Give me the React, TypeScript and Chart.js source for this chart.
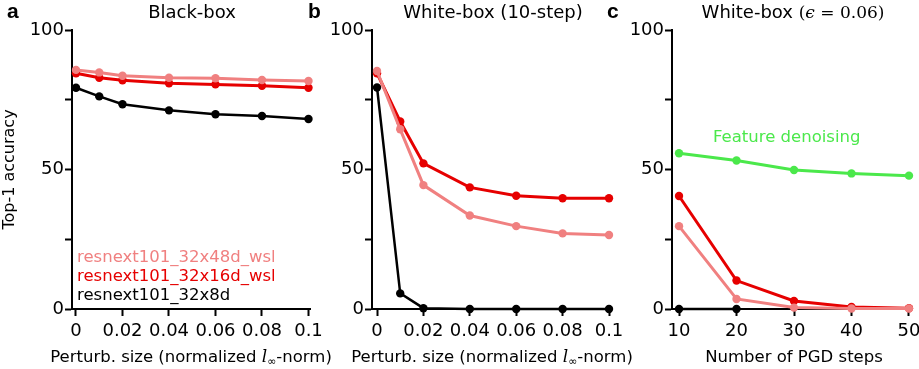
import React, { useEffect, useRef } from "react";
import { Chart, registerables } from "chart.js";
Chart.register(...registerables);

const SANS = "'DejaVu Sans', sans-serif";
const SERIF = "'DejaVu Serif', serif";

// ---- data ----
const perturbSizes = [0, 0.01, 0.02, 0.04, 0.06, 0.08, 0.1];
const perturbTicks = [0, 0.02, 0.04, 0.06, 0.08, 0.1];
const pgdSteps = [10, 20, 30, 40, 50];
const pgdTicks = [10, 20, 30, 40, 50];
const pgdStepsBlack = [10, 20];
const yTickValues = [0, 25, 50, 75, 100];
const yTickLabels = [0, 50, 100];

const blackBox48 = [85.7, 84.8, 83.6, 82.9, 82.7, 82.1, 81.7];
const blackBox16 = [84.5, 82.9, 82.0, 80.9, 80.5, 80.0, 79.3];
const blackBox8 = [79.3, 76.2, 73.4, 71.2, 69.8, 69.2, 68.1];

const whiteBox48 = [85.3, 64.4, 44.4, 33.5, 29.7, 27.1, 26.5];
const whiteBox16 = [84.5, 67.2, 52.2, 43.6, 40.6, 39.7, 39.7];
const whiteBox8 = [79.4, 5.6, 0.3, 0, 0, 0, 0];

const pgdDenoise = [55.8, 53.2, 49.8, 48.6, 47.8];
const pgd16 = [40.5, 10.2, 2.9, 0.7, 0.3];
const pgd48 = [29.7, 3.6, 0.5, 0.2, 0.2];
const pgd8 = [0, 0];

const names = ["resnext101_32x48d_wsl", "resnext101_32x16d_wsl", "resnext101_32x8d"];

const C48 = "#f08080";
const C16 = "#e60000";
const C8 = "#000000";
const CFD = "#4be84b";

type Seg = { text: string; font: string; dy?: number };
type TextItem = { segs: Seg[]; x: number; y: number; align: "left" | "center"; color: string };

function drawRich(ctx: CanvasRenderingContext2D, t: TextItem, offX: number) {
  ctx.save();
  ctx.textBaseline = "alphabetic";
  ctx.textAlign = "left";
  ctx.fillStyle = t.color;
  const widths = t.segs.map((s) => {
    ctx.font = s.font;
    return ctx.measureText(s.text).width;
  });
  const total = widths.reduce((a, b) => a + b, 0);
  let cx = (t.align === "center" ? t.x - total / 2 : t.x) - offX;
  t.segs.forEach((s, i) => {
    ctx.font = s.font;
    ctx.fillText(s.text, cx, t.y + (s.dy || 0));
    cx += widths[i];
  });
  ctx.restore();
}

function series(xs: number[], ys: number[], color: string, width: number) {
  return {
    data: xs.map((x, i) => ({ x, y: ys[i] })),
    borderColor: color,
    backgroundColor: color,
    pointBackgroundColor: color,
    pointBorderWidth: 0,
    pointRadius: 4.2,
    borderWidth: width,
    clip: false as any,
    tension: 0,
  };
}

const sans = (px: number, w = "") => `${w} ${px}px ${SANS}`.trim();
const letterFont = `bold 21px 'Liberation Sans', sans-serif`;

const xTitlePerturb = (cx: number): TextItem => ({
  segs: [
    { text: "Perturb. size (normalized ", font: sans(16.5) },
    { text: "l", font: `italic 17px ${SERIF}` },
    { text: "∞", font: `11px ${SANS}`, dy: 3 },
    { text: "-norm)", font: sans(16.5) },
  ],
  x: cx,
  y: 362,
  align: "center",
  color: "#000",
});

type PanelProps = {
  left: number;
  width: number;
  axisWidth: number;
  padRight: number;
  xMin: number;
  xMax: number;
  xTicks: number[];
  datasets: any[];
  showYTitle: boolean;
  texts: TextItem[];
};

function Panel(p: PanelProps) {
  const ref = useRef<HTMLCanvasElement>(null);
  useEffect(() => {
    if (!ref.current) return;
    const textPlugin = {
      id: "texts",
      afterDraw(chart: any) {
        p.texts.forEach((t) => drawRich(chart.ctx, t, p.left));
      },
    };
    const chart = new Chart(ref.current, {
      type: "line",
      data: { datasets: p.datasets },
      options: {
        animation: false,
        responsive: false,
        maintainAspectRatio: false,
        devicePixelRatio: 1,
        layout: { padding: { top: 30, right: p.padRight, left: 0, bottom: 0 } },
        plugins: { legend: { display: false }, tooltip: { enabled: false }, title: { display: false } },
        scales: {
          x: {
            type: "linear",
            min: p.xMin,
            max: p.xMax,
            afterBuildTicks: (s: any) => {
              s.ticks = p.xTicks.map((v) => ({ value: v }));
            },
            afterFit: (s: any) => {
              s.height = 60;
              s.paddingLeft = 0;
              s.paddingRight = 0;
            },
            grid: { display: true, drawOnChartArea: false, drawTicks: true, tickLength: 7, tickWidth: 2, tickColor: "#000" },
            border: { display: true, color: "#000", width: 2 },
            ticks: {
              color: "#000",
              font: { family: SANS, size: 18 },
              padding: 5,
              autoSkip: false,
              maxRotation: 0,
              callback: (v: any) => String(v),
            },
          },
          y: {
            type: "linear",
            min: 0,
            max: 100,
            afterBuildTicks: (s: any) => {
              s.ticks = yTickValues.map((v) => ({ value: v }));
            },
            afterFit: (s: any) => {
              s.width = p.axisWidth;
              s.paddingTop = 0;
              s.paddingBottom = 0;
            },
            grid: { display: true, drawOnChartArea: false, drawTicks: true, tickLength: 7, tickWidth: 2, tickColor: "#000" },
            border: { display: true, color: "#000", width: 2 },
            ticks: {
              color: "#000",
              font: { family: SANS, size: 18 },
              padding: 1,
              autoSkip: false,
              callback: (v: any) => (yTickLabels.includes(Number(v)) ? String(v) : ""),
            },
            title: {
              display: p.showYTitle,
              text: "Top-1 accuracy",
              color: "#000",
              font: { family: SANS, size: 16 },
              padding: 0,
            },
          },
        },
      } as any,
      plugins: [textPlugin],
    });
    return () => chart.destroy();
  }, []);
  return (
    <canvas
      ref={ref}
      width={p.width}
      height={369}
      style={{ position: "absolute", left: p.left, top: 0, width: p.width, height: 369, display: "block" }}
    />
  );
}

export default function App() {
  const panelA: PanelProps = {
    left: 0,
    width: 340,
    axisWidth: 72,
    padRight: 30,
    xMin: -0.00172,
    xMax: 0.10065,
    xTicks: perturbTicks,
    showYTitle: true,
    datasets: [
      series(perturbSizes, blackBox48, C48, 3),
      series(perturbSizes, blackBox16, C16, 3),
      series(perturbSizes, blackBox8, C8, 2.5),
    ],
    texts: [
      { segs: [{ text: "a", font: letterFont }], x: 7, y: 18, align: "left", color: "#000" },
      { segs: [{ text: "b", font: letterFont }], x: 308, y: 18, align: "left", color: "#000" },
      { segs: [{ text: "Black-box", font: sans(18) }], x: 192, y: 18, align: "center", color: "#000" },
      { segs: [{ text: names[0], font: sans(16.5) }], x: 77, y: 262, align: "left", color: C48 },
      { segs: [{ text: names[1], font: sans(16.5) }], x: 77, y: 281, align: "left", color: C16 },
      { segs: [{ text: names[2], font: sans(16.5) }], x: 77, y: 300, align: "left", color: C8 },
      xTitlePerturb(191),
    ],
  };
  const panelB: PanelProps = {
    left: 314,
    width: 326,
    axisWidth: 58,
    padRight: 29,
    xMin: -0.00216,
    xMax: 0.10086,
    xTicks: perturbTicks,
    showYTitle: false,
    datasets: [
      series(perturbSizes, whiteBox48, C48, 3),
      series(perturbSizes, whiteBox16, C16, 3),
      series(perturbSizes, whiteBox8, C8, 2.5),
    ],
    texts: [
      { segs: [{ text: "c", font: letterFont }], x: 607, y: 18, align: "left", color: "#000" },
      { segs: [{ text: "White-box (10-step)", font: sans(18) }], x: 493, y: 18, align: "center", color: "#000" },
      xTitlePerturb(492),
    ],
  };
  const panelC: PanelProps = {
    left: 614,
    width: 305,
    axisWidth: 58,
    padRight: 8,
    xMin: 8.78,
    xMax: 50.35,
    xTicks: pgdTicks,
    showYTitle: false,
    datasets: [
      series(pgdSteps, pgdDenoise, CFD, 3),
      series(pgdSteps, pgd48, C48, 3),
      series(pgdSteps, pgd16, C16, 3),
      series(pgdStepsBlack, pgd8, C8, 2.5),
    ],
    texts: [
      {
        segs: [
          { text: "White-box ", font: sans(18) },
          { text: "(", font: `17px ${SERIF}` },
          { text: "ϵ", font: `italic 17px ${SERIF}` },
          { text: " = 0.06)", font: `17px ${SERIF}` },
        ],
        x: 793,
        y: 18,
        align: "center",
        color: "#000",
      },
      { segs: [{ text: "Feature denoising", font: sans(16.5) }], x: 713, y: 142, align: "left", color: CFD },
      { segs: [{ text: "Number of PGD steps", font: sans(16.5) }], x: 794, y: 362, align: "center", color: "#000" },
    ],
  };
  return (
    <div style={{ position: "absolute", left: 0, top: 0, width: 919, height: 369, background: "#fff" }}>
      <Panel {...panelA} />
      <Panel {...panelB} />
      <Panel {...panelC} />
    </div>
  );
}
